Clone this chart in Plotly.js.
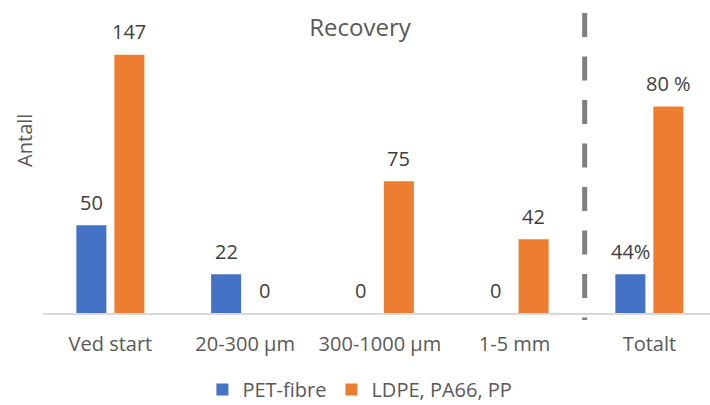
<!DOCTYPE html>
<html>
<head>
<meta charset="utf-8">
<script src="https://cdn.plot.ly/plotly-3.0.1.min.js"></script>
<style>html,body{margin:0;padding:0;background:#fff;}#chart{width:710px;height:405px;}</style>
</head>
<body>
<div id="chart"></div>
<script>
// Data
var categories = ["Ved start", "20-300 µm", "300-1000 µm", "1-5 mm", "Totalt"];
var petValues = [50, 22, 0, 0, 22];          // Totalt bar drawn at 44 % of 50
var ldpeValues = [147, 0, 75, 42, 117.6];    // Totalt bar drawn at 80 % of 147
var petLabels = ["50", "22", "0", "0", "44%"];
var ldpeLabels = ["147", "0", "75", "42", "80 %"];
var seriesNames = ["PET-fibre", "LDPE, PA66, PP"];

var FONT = "Open Sans, DejaVu Sans, sans-serif";
var blue = "#4472C4", orange = "#ED7D31";

var traces = [
  {type: "bar", name: seriesNames[0], x: categories, y: petValues, marker: {color: blue}, hoverinfo: "skip"},
  {type: "bar", name: seriesNames[1], x: categories, y: ldpeValues, marker: {color: orange}, hoverinfo: "skip"}
];

var annotations = [];
function addLabels(values, labels, shift) {
  for (var i = 0; i < values.length; i++) {
    annotations.push({
      x: categories[i], y: values[i], xref: "x", yref: "y",
      text: labels[i], showarrow: false, xshift: shift, yshift: 23,
      xanchor: "center", yanchor: "middle",
      font: {family: FONT, size: 20, color: "#404040"}
    });
  }
}
addLabels(petValues, petLabels, -19);
addLabels(ldpeValues, ldpeLabels, 19);

annotations.push({
  text: "Antall", textangle: -90, showarrow: false,
  xref: "paper", yref: "paper", x: -0.027, y: 0.616,
  xanchor: "center", yanchor: "middle",
  font: {family: FONT, size: 20, color: "#595959"}
});

var layout = {
  width: 710, height: 405,
  margin: {l: 43, r: 0, t: 32, b: 92, autoexpand: false},
  paper_bgcolor: "#ffffff", plot_bgcolor: "#ffffff",
  font: {family: FONT, color: "#595959"},
  title: {text: "Recovery", font: {family: FONT, size: 24, color: "#595959"},
          xref: "container", yref: "container", x: 0.507, y: 0.933, xanchor: "center", yanchor: "middle"},
  barmode: "group", bargap: 0.436, bargroupgap: 0.21,
  xaxis: {
    type: "category", range: [-0.5, 4.45], showline: true, linecolor: "#d9d9d9", linewidth: 2,
    showgrid: false, zeroline: false, ticks: "", ticklabelstandoff: 12, automargin: false,
    tickfont: {family: FONT, size: 20, color: "#595959"}, fixedrange: true
  },
  yaxis: {range: [0, 160], visible: false, showgrid: false, zeroline: false, fixedrange: true, automargin: false},
  showlegend: true,
  legend: {orientation: "h", xref: "paper", yref: "paper", x: 0.239, y: -0.272, xanchor: "left", yanchor: "middle",
           bgcolor: "rgba(0,0,0,0)", font: {family: FONT, size: 20, color: "#595959"}, itemclick: false},
  shapes: [{
    type: "line", xref: "x", yref: "paper", x0: 3.52, x1: 3.52, y0: 1.0676, y1: -0.025,
    line: {color: "#7f7f7f", width: 5, dash: "24px,19.5px"}
  }],
  annotations: annotations
};

Plotly.newPlot("chart", traces, layout, {displayModeBar: false, staticPlot: true});
</script>
</body>
</html>
